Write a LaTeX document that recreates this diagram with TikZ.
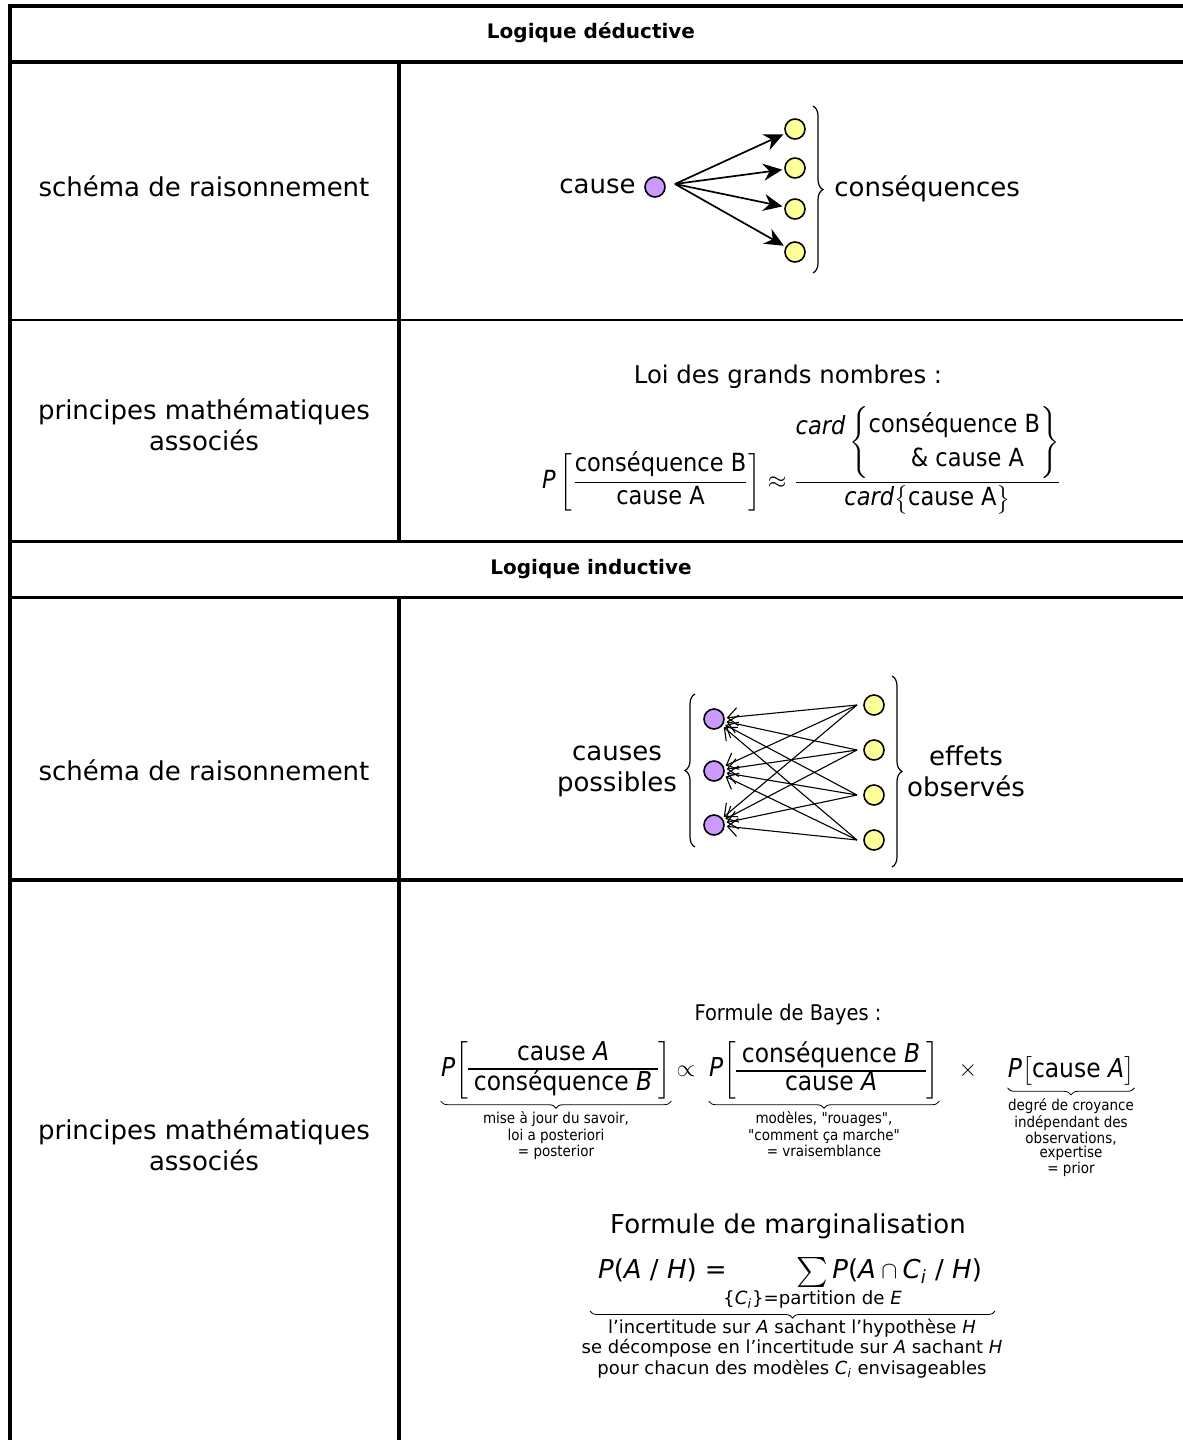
\documentclass[tikz,border=0pt]{standalone}
\usepackage{amsmath}
\usepackage{fontspec}
\setmainfont{DejaVu Sans}
\newfontfamily\condfont{DejaVu Sans Condensed}
\usetikzlibrary{arrows.meta,decorations.pathreplacing}
\definecolor{purpleF}{HTML}{CC99FF}
\definecolor{yellowF}{HTML}{FFFF99}
\newcommand{\itx}[1]{{\itshape #1}}
\newcommand{\frc}[2]{\begingroup\setlength{\arrayrulewidth}{0.7pt}\renewcommand{\arraystretch}{1}\begin{tabular}{@{\hspace{3pt}}c@{\hspace{3pt}}}#1\\\hline #2\end{tabular}\endgroup}
\newcommand{\bigsum}{\mathop{\vcenter{\hbox{\scalebox{1.25}{$\sum$}}}}}
\begin{document}
\begin{tikzpicture}[x=0.5pt,y=-0.5pt,
 lab/.style={font=\fontsize{13}{15.5}\selectfont, inner sep=0pt, align=center},
 labB/.style={font=\fontsize{12.2}{15}\selectfont, inner sep=0pt, align=center},
 hdr/.style={font=\bfseries\fontsize{10}{12}\selectfont, inner sep=0pt},
 fm/.style={font=\condfont\fontsize{12.5}{15}\selectfont, inner sep=0pt},
 fmB/.style={font=\condfont\fontsize{13}{13.5}\selectfont, inner sep=0pt},
 ftitle/.style={font=\condfont\fontsize{10.8}{13}\selectfont, inner sep=0pt},
 blab/.style={font=\condfont\fontsize{7.5}{6.8}\selectfont, inner sep=0pt, align=center},
 mlab/.style={font=\fontsize{9}{8.8}\selectfont, inner sep=0pt, align=center},
 pc/.style={circle, draw, line width=0.8pt, fill=purpleF, minimum size=10pt, inner sep=0pt},
 yc/.style={circle, draw, line width=0.8pt, fill=yellowF, minimum size=10pt, inner sep=0pt},
 arrA/.style={-{Stealth[length=9.5pt,width=8.5pt]}, line width=0.85pt, shorten >=1pt},
 arrB/.style={-{Straight Barb[length=5pt,width=9pt]}, line width=0.55pt, shorten >=1pt},
 brc/.style={decorate, decoration={brace, amplitude=5pt}, line width=0.6pt},
 ubr/.style={decorate, decoration={brace, amplitude=3.5pt}, line width=0.4pt},
 thick4/.style={line width=2pt},
]
\useasboundingbox (0,0) rectangle (1183,1440);
\clip (0,0) rectangle (1183,1440);
\fill[white] (0,0) rectangle (1183,1440);

% table rules
\draw[thick4] (10,1460) -- (10,6) -- (1200,6);
\draw[thick4] (8,62) -- (1200,62);
\draw[line width=1pt] (8,320) -- (1200,320);
\draw[line width=1.5pt] (8,541) -- (1200,541);
\draw[line width=1.5pt] (8,597) -- (1200,597);
\draw[thick4] (8,880) -- (1200,880);
\draw[thick4] (399,62) -- (399,541);
\draw[thick4] (399,597) -- (399,1460);

% headers and left column
\node[hdr] (h1) at (591,33) {Logique déductive};
\node[hdr] (h2) at (591,569) {Logique inductive};
\node[lab] (l1) at (204,186) {schéma de raisonnement};
\node[lab] (l2) at (204,425) {principes mathématiques\\associés};
\node[lab] (l3) at (204,770) {schéma de raisonnement};
\node[lab] (l4) at (204,1145) {principes mathématiques\\associés};

% row 1 : deductive scheme
\node[lab, anchor=east] (cause) at (636,186) {cause};
\node[pc] (c0) at (655,187) {};
\coordinate (c0r) at (675,184);
\node[yc] (k1) at (795,129) {};
\node[yc] (k2) at (795,168) {};
\node[yc] (k3) at (795,209) {};
\node[yc] (k4) at (795,252) {};
\foreach \k in {k1,k2,k3,k4} \draw[arrA] (c0r) -- (\k);
\coordinate (bA) at (813,106);
\coordinate (bB) at (813,273);
\draw[brc] (bA) -- (bB);
\node[lab, anchor=west] (cons) at (834,189) {conséquences};

% row 2 : law of large numbers
\node[labB] (loi) at (788,377) {Loi des grands nombres :};
\node[fm, anchor=base] (lgn) at (802,488) {$\text{\itshape P}\left[\dfrac{\text{conséquence B}}{\text{cause A}}\right]\approx
\dfrac{\text{\raisebox{7pt}{\itshape card}}\left\{\renewcommand{\arraystretch}{1.15}\begin{tabular}{@{}c@{}}conséquence B\\ \hspace{13pt}\& cause A\end{tabular}\right\}}{\text{\itshape card}\bigl\{\text{cause A}\bigr\}}$};

% row 3 : inductive scheme
\node[pc] (p1) at (714,719) {};
\node[pc] (p2) at (714,771) {};
\node[pc] (p3) at (714,825) {};
\node[yc] (e1) at (874,705) {};
\node[yc] (e2) at (874,750) {};
\node[yc] (e3) at (874,795) {};
\node[yc] (e4) at (874,840) {};
\coordinate (s1) at (857,705);
\coordinate (s2) at (857,750);
\coordinate (s3) at (857,795);
\coordinate (s4) at (857,840);
\foreach \s in {1,...,4} \foreach \p in {1,2,3} \draw[arrB] (s\s) -- (p\p);
\coordinate (lbA) at (695,847);
\coordinate (lbB) at (695,694);
\draw[brc] (lbA) -- (lbB);
\coordinate (rbA) at (892,676);
\coordinate (rbB) at (892,867);
\draw[brc] (rbA) -- (rbB);
\node[lab] (cp) at (617,771) {causes\\possibles};
\node[lab] (eo) at (966,771) {effets\\observés};

% row 4 : Bayes
\node[ftitle] (bt) at (788,1015) {Formule de Bayes :};
\node[fmB, anchor=base] (b1) at (556,1076) {$\text{\itshape P}\biggl[\frc{cause \itshape A}{conséquence \itshape B}\biggr]$};
\node[fmB, anchor=base] (prop) at (686,1076) {$\propto$};
\node[fmB, anchor=base] (b2) at (824,1076) {$\text{\itshape P}\biggl[\frc{conséquence \itshape B}{cause \itshape A}\biggr]$};
\node[fmB, anchor=base] (tms) at (968,1076) {$\times$};
\node[fmB, anchor=base] (b3) at (1071,1077) {$\text{\itshape P}\bigl[\text{cause \itshape A}\bigr]$};
\draw[ubr] ([yshift=-1pt]b1.south east) -- ([yshift=-1pt]b1.south west);
\draw[ubr] ([yshift=-1pt]b2.south east) -- ([yshift=-1pt]b2.south west);
\draw[ubr] ([yshift=-1pt]b3.south east) -- ([yshift=-1pt]b3.south west);
\node[blab, anchor=north] (t1) at ([yshift=-6pt]b1.south) {mise à jour du savoir,\\loi a posteriori\\= posterior};
\node[blab, anchor=north] (t2) at ([yshift=-6pt]b2.south) {modèles, "rouages",\\"comment ça marche"\\= vraisemblance};
\node[blab, anchor=north] (t3) at ([yshift=-6pt]b3.south) {degré de croyance\\indépendant des\\observations,\\expertise\\= prior};

% row 4 : marginalisation
\node[lab, anchor=base] (mt) at (788,1233) {Formule de marginalisation};
\node[lab, anchor=base] (mf) at (790,1278) {$\text{\itx{P}(\itx{A} / \itx{H}) =}\hspace{33pt}\bigsum\limits_{\text{\makebox[0pt]{\{\itx{C}\textsubscript{\itx{i}}\}=partition de \itx{E}}}}\text{\itx{P}(\itx{A}}\cap\text{\itx{C}\textsubscript{\itx{i}} / \itx{H})}$};
\coordinate (mbL) at (590,1311);
\coordinate (mbR) at (995,1311);
\draw[ubr] (mbR) -- (mbL);
\node[mlab, anchor=north] (mtx) at (792,1319) {l'incertitude sur \itx{A} sachant l'hypothèse \itx{H}\\se décompose en l'incertitude sur \itx{A} sachant \itx{H}\\pour chacun des modèles \itx{C}\textsubscript{\itx{i}} envisageables};
\end{tikzpicture}
\end{document}
